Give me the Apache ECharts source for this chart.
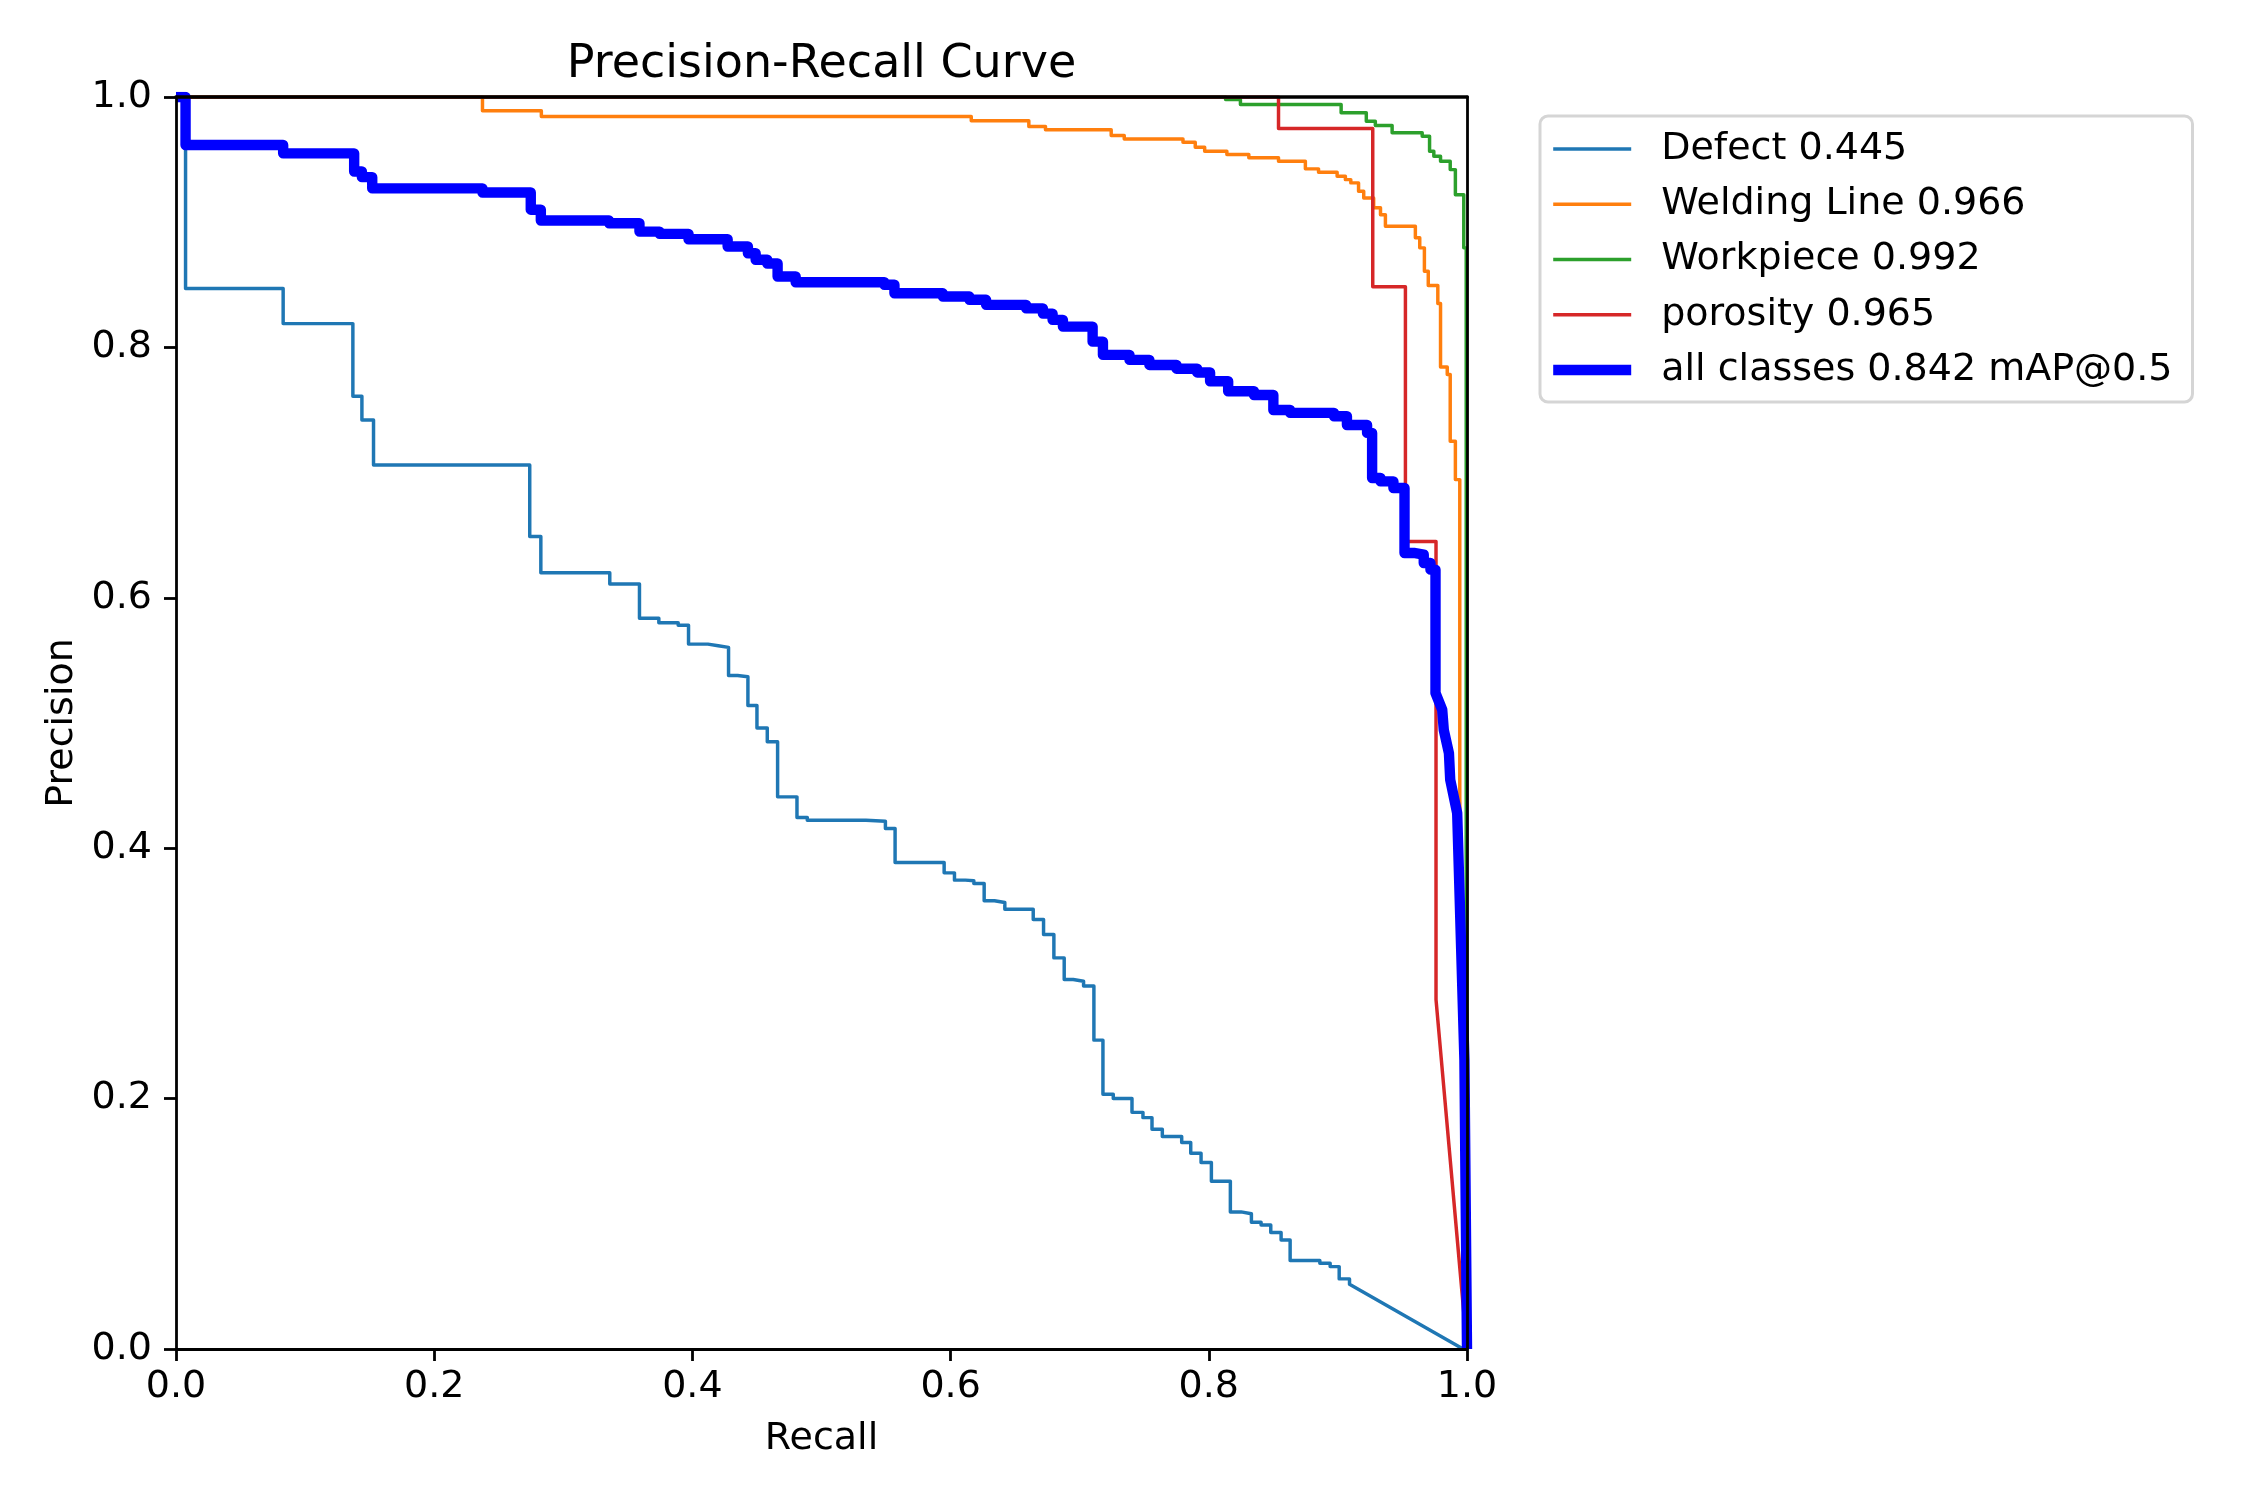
<!DOCTYPE html>
<html>
<head>
<meta charset="utf-8">
<script src="https://cdn.jsdelivr.net/npm/echarts@6/dist/echarts.min.js"></script>
<style>
html, body { margin: 0; padding: 0; background: #ffffff; }
#chart { width: 2250px; height: 1500px; }
</style>
</head>
<body>
<div id="chart"></div>
<script>
// ---- data ----
const classNames = ['Defect', 'Welding Line', 'Workpiece', 'porosity'];
const classAP = ['0.445', '0.966', '0.992', '0.965'];
const allClassesLabel = 'all classes 0.842 mAP@0.5';
const axisTicks = [0, 0.2, 0.4, 0.6, 0.8, 1.0];

// step curves: recall where a level starts, precision of that level; tail = straight segments at the end
const defectRecall = [0, 0.0074, 0.083, 0.137, 0.144, 0.153, 0.274, 0.2826, 0.336, 0.359, 0.374, 0.389, 0.397, 0.412, 0.420, 0.428, 0.435, 0.443, 0.450, 0.458, 0.466, 0.481, 0.489, 0.5345, 0.5495, 0.557, 0.595, 0.603, 0.6115, 0.618, 0.626, 0.634, 0.642, 0.664, 0.672, 0.680, 0.688, 0.695, 0.703, 0.711, 0.718, 0.726, 0.7405, 0.749, 0.756, 0.764, 0.779, 0.786, 0.794, 0.802, 0.8167, 0.825, 0.833, 0.8405, 0.848, 0.856, 0.863, 0.886, 0.894, 0.901, 0.909];
const defectPrecision = [1.0, 0.847, 0.819, 0.761, 0.742, 0.706, 0.649, 0.620, 0.611, 0.5836, 0.580, 0.578, 0.563, 0.5617, 0.5604, 0.538, 0.537, 0.514, 0.496, 0.485, 0.441, 0.4246, 0.4224, 0.4216, 0.4158, 0.3886, 0.3803, 0.3745, 0.374, 0.3718, 0.358, 0.3566, 0.3513, 0.343, 0.331, 0.3124, 0.2951, 0.2938, 0.290, 0.2467, 0.2035, 0.200, 0.189, 0.1848, 0.1755, 0.1697, 0.165, 0.1564, 0.149, 0.134, 0.1095, 0.108, 0.1012, 0.099, 0.093, 0.087, 0.0706, 0.0685, 0.0658, 0.056, 0.0517];
const defectTailRecall = [0.997];
const defectTailPrecision = [0.0];

const weldingRecall = [0, 0.2374, 0.283, 0.616, 0.6606, 0.6735, 0.7244, 0.7345, 0.780, 0.7895, 0.7968, 0.814, 0.831, 0.854, 0.8748, 0.885, 0.8994, 0.9058, 0.910, 0.916, 0.920, 0.9277, 0.933, 0.9368, 0.960, 0.9634, 0.967, 0.970, 0.9774, 0.9795, 0.9847, 0.987, 0.991, 0.9944];
const weldingPrecision = [1.0, 0.989, 0.9844, 0.981, 0.9764, 0.9738, 0.9692, 0.9664, 0.9639, 0.9599, 0.9567, 0.954, 0.9514, 0.9487, 0.9426, 0.9399, 0.9367, 0.934, 0.9314, 0.9247, 0.9194, 0.9115, 0.906, 0.8968, 0.8875, 0.8795, 0.8608, 0.8494, 0.835, 0.7844, 0.7783, 0.725, 0.6944, 0.44];
const weldingTailRecall = [1.0];
const weldingTailPrecision = [0.0];

const workpieceRecall = [0, 0.813, 0.8245, 0.9025, 0.922, 0.929, 0.942, 0.9653, 0.971, 0.9743, 0.9795, 0.987, 0.991, 0.9975, 0.9994];
const workpiecePrecision = [1.0, 0.998, 0.994, 0.9874, 0.9807, 0.9772, 0.9714, 0.9687, 0.9567, 0.9527, 0.9487, 0.942, 0.922, 0.8795, 0.40];
const workpieceTailRecall = [1.0];
const workpieceTailPrecision = [0.0];

const porosityRecall = [0, 0.854, 0.927, 0.9523, 0.976];
const porosityPrecision = [1.0, 0.9748, 0.8484, 0.645, 0.279];
const porosityTailRecall = [1.0];
const porosityTailPrecision = [0.0];

const allRecall = [0, 0.0074, 0.083, 0.138, 0.144, 0.152, 0.2374, 0.2748, 0.2826, 0.3355, 0.359, 0.3746, 0.397, 0.4273, 0.443, 0.449, 0.458, 0.466, 0.480, 0.5487, 0.5565, 0.594, 0.6146, 0.6275, 0.6585, 0.6715, 0.679, 0.687, 0.710, 0.718, 0.7386, 0.754, 0.775, 0.791, 0.801, 0.815, 0.835, 0.850, 0.863, 0.897, 0.907, 0.9226, 0.9265, 0.933, 0.943, 0.9516, 0.9588, 0.9665, 0.9717, 0.9756];
const allPrecision = [1.0, 0.9617, 0.955, 0.9405, 0.936, 0.927, 0.9237, 0.910, 0.9013, 0.8992, 0.8925, 0.8907, 0.8864, 0.8806, 0.8752, 0.870, 0.867, 0.8566, 0.852, 0.850, 0.8432, 0.8406, 0.838, 0.834, 0.8312, 0.827, 0.822, 0.8166, 0.8046, 0.794, 0.790, 0.786, 0.783, 0.780, 0.773, 0.765, 0.762, 0.750, 0.7477, 0.745, 0.738, 0.7317, 0.6957, 0.693, 0.6877, 0.6358, 0.6344, 0.6278, 0.6225, 0.524];
const allTailRecall = [0.9808, 0.982, 0.986, 0.987, 0.9924, 0.998, 1.0];
const allTailPrecision = [0.5106, 0.4946, 0.476, 0.4547, 0.428, 0.231, 0.0];

// ---- build polylines from the arrays ----
function buildPoints(stepR, stepP, tailR, tailP) {
  const pts = [[stepR[0], stepP[0]]];
  for (let i = 1; i < stepR.length; i++) {
    pts.push([stepR[i], stepP[i - 1]], [stepR[i], stepP[i]]);
  }
  for (let i = 0; i < tailR.length; i++) pts.push([tailR[i], tailP[i]]);
  return pts;
}

const curves = [
  buildPoints(defectRecall, defectPrecision, defectTailRecall, defectTailPrecision),
  buildPoints(weldingRecall, weldingPrecision, weldingTailRecall, weldingTailPrecision),
  buildPoints(workpieceRecall, workpiecePrecision, workpieceTailRecall, workpieceTailPrecision),
  buildPoints(porosityRecall, porosityPrecision, porosityTailRecall, porosityTailPrecision)
];
const allCurve = buildPoints(allRecall, allPrecision, allTailRecall, allTailPrecision);

const classColors = ['#1f77b4', '#ff7f0e', '#2ca02c', '#d62728'];
const allColor = '#0000ff';
const thinWidth = 3.47;
const thickWidth = 10.4;
const FONT = 'DejaVu Sans';
const legendNames = classNames.map((n, i) => n + ' ' + classAP[i]).concat([allClassesLabel]);

const series = curves.map((pts, i) => ({
  name: legendNames[i],
  type: 'line',
  data: pts,
  symbol: 'none',
  showSymbol: false,
  clip: true,
  silent: true,
  lineStyle: { color: classColors[i], width: thinWidth, join: 'round' },
  itemStyle: { color: classColors[i] },
  emphasis: { disabled: true },
  z: 2
}));
series.push({
  name: allClassesLabel,
  type: 'line',
  data: allCurve,
  symbol: 'none',
  showSymbol: false,
  clip: true,
  silent: true,
  lineStyle: { color: allColor, width: thickWidth, join: 'round' },
  itemStyle: { color: allColor },
  emphasis: { disabled: true },
  z: 2
});

const legendData = legendNames.map((n, i) => ({
  name: n,
  itemStyle: { opacity: 0, borderWidth: 0 },
  lineStyle: {
    color: i < classColors.length ? classColors[i] : allColor,
    width: i < classColors.length ? thinWidth : thickWidth,
    cap: 'butt'
  }
}));

const axisCommon = {
  type: 'value',
  min: 0,
  max: 1,
  interval: 0.2,
  splitLine: { show: false },
  zlevel: 1,
  z: 5
};

const chart = echarts.init(document.getElementById('chart'), null, { renderer: 'canvas' });
chart.setOption({
  animation: false,
  backgroundColor: '#ffffff',
  title: {
    text: 'Precision-Recall Curve',
    left: 821.5,
    top: 42,
    padding: 0,
    textAlign: 'center',
    textStyle: { fontFamily: FONT, fontSize: 46, fontWeight: 'normal', color: '#000000' }
  },
  grid: { left: 176, top: 97, width: 1291, height: 1252, containLabel: false },
  legend: {
    orient: 'vertical',
    left: 1540,
    top: 116,
    padding: [13, 20, 12, 8],
    itemWidth: 78,
    itemHeight: 40,
    itemGap: 15.25,
    data: legendData,
    selectedMode: false,
    itemStyle: { opacity: 0, borderWidth: 0 },
    backgroundColor: 'rgba(255,255,255,0.8)',
    borderColor: '#d5d5d5',
    borderWidth: 3,
    borderRadius: 8,
    textStyle: { fontFamily: FONT, fontSize: 38, color: '#000000', lineHeight: 40, padding: [0, 0, 0, 25] }
  },
  xAxis: [
    Object.assign({}, axisCommon, {
      position: 'bottom',
      name: 'Recall',
      nameLocation: 'middle',
      nameGap: 71,
      nameTextStyle: { fontFamily: FONT, fontSize: 38, color: '#000000' },
      axisLine: { show: true, onZero: false, lineStyle: { color: '#000000', width: 2.8 } },
      axisTick: { show: true, inside: false, length: 12, lineStyle: { color: '#000000', width: 2.8 } },
      axisLabel: { show: true, margin: 19, fontFamily: FONT, fontSize: 38, color: '#000000',
        formatter: v => axisTicks.includes(+v.toFixed(1)) ? v.toFixed(1) : '' }
    }),
    Object.assign({}, axisCommon, {
      position: 'top',
      axisLine: { show: true, onZero: false, lineStyle: { color: '#000000', width: 3.6 } },
      axisTick: { show: false },
      axisLabel: { show: false }
    })
  ],
  yAxis: [
    Object.assign({}, axisCommon, {
      position: 'left',
      name: 'Precision',
      nameLocation: 'middle',
      nameGap: 94,
      nameTextStyle: { fontFamily: FONT, fontSize: 38, color: '#000000' },
      axisLine: { show: true, onZero: false, lineStyle: { color: '#000000', width: 2.8 } },
      axisTick: { show: true, inside: false, length: 12, lineStyle: { color: '#000000', width: 2.8 } },
      axisLabel: { show: true, margin: 24, fontFamily: FONT, fontSize: 38, color: '#000000',
        formatter: v => v.toFixed(1) }
    }),
    Object.assign({}, axisCommon, {
      position: 'right',
      axisLine: { show: true, onZero: false, lineStyle: { color: '#000000', width: 2.8 } },
      axisTick: { show: false },
      axisLabel: { show: false }
    })
  ],
  series: series
});
</script>
</body>
</html>
